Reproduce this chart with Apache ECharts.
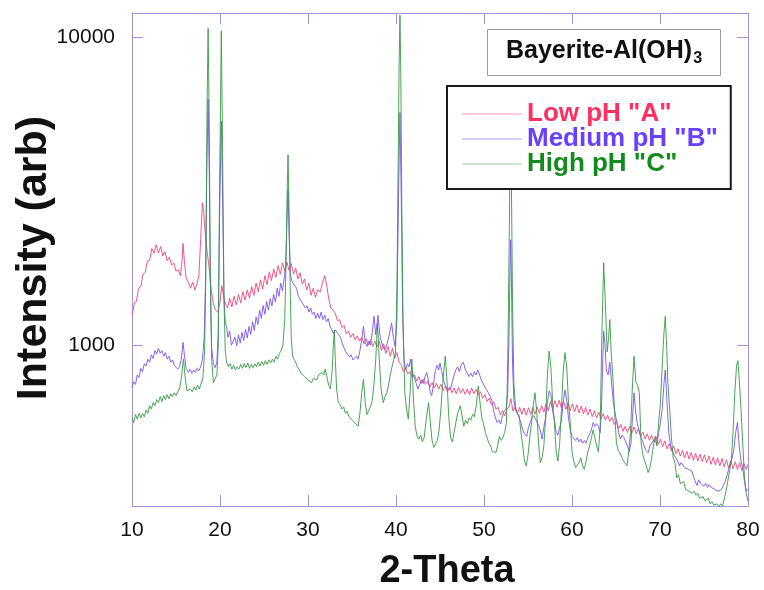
<!DOCTYPE html>
<html>
<head>
<meta charset="utf-8">
<script src="https://cdn.jsdelivr.net/npm/echarts@6/dist/echarts.min.js"></script>
<style>
  html, body { margin: 0; padding: 0; background: #fff; }
  #chart_1 { width: 764px; height: 590px; }
</style>
</head>
<body>
<div id="chart_1"></div>
<script>
// 2-theta / intensity pairs
var lowA = [
  [10.0,1250],[10.25,1360],[10.5,1390],[10.75,1530],[11.0,1550],[11.25,1700],[11.5,1720],[11.75,1880],[12.0,1880],[12.25,2060],
  [12.5,1990],[12.75,2120],[13.0,1990],[13.25,2090],[13.5,1950],[13.75,2010],[14.0,1880],[14.25,1930],[14.5,1820],[14.75,1850],
  [15.0,1740],[15.25,1760],[15.5,1680],[15.7,1900],[15.8,2140],[15.95,1880],[16.15,1650],[16.4,1600],[16.65,1530],[16.9,1600],
  [17.15,1510],[17.4,1590],[17.6,1680],[17.8,2200],[18.0,2900],[18.15,2700],[18.35,2250],[18.55,2000],[18.75,1800],[19.0,1520],
  [19.25,1360],[19.5,1300],[19.75,1280],[20.0,1380],[20.2,1560],[20.4,1450],[20.6,1370],[20.85,1320],[21.1,1420],[21.35,1330],
  [21.6,1440],[21.85,1350],[22.1,1460],[22.35,1370],[22.6,1490],[22.85,1400],[23.1,1510],[23.35,1420],[23.6,1550],[23.85,1450],
  [24.1,1590],[24.35,1490],[24.6,1630],[24.85,1520],[25.1,1680],[25.35,1570],[25.6,1730],[25.85,1620],[26.1,1770],[26.35,1660],
  [26.6,1810],[26.85,1700],[27.1,1850],[27.35,1740],[27.6,1860],[27.85,1750],[28.1,1840],[28.35,1700],[28.6,1780],[28.85,1640],
  [29.1,1720],[29.35,1580],[29.6,1640],[29.85,1510],[30.1,1590],[30.35,1450],[30.6,1530],[30.85,1430],[31.1,1510],[31.4,1490],
  [31.65,1600],[31.9,1680],[32.1,1580],[32.35,1420],[32.6,1320],[32.85,1300],[33.1,1270],[33.35,1200],[33.6,1210],[33.85,1140],
  [34.1,1160],[34.35,1090],[34.6,1110],[34.85,1060],[35.1,1090],[35.35,1040],[35.6,1070],[35.85,1030],[36.1,1060],[36.35,1010],
  [36.6,1050],[36.85,1000],[37.1,1040],[37.35,990],[37.6,1030],[37.85,985],[38.1,1030],[38.35,960],[38.6,1010],[38.85,940],
  [39.1,990],[39.35,920],[39.6,975],[39.85,905],[40.1,945],[40.35,880],[40.6,860],[40.85,820],[41.1,840],[41.35,805],
  [41.6,820],[41.85,785],[42.1,800],[42.35,765],[42.6,790],[42.85,750],[43.1,775],[43.35,745],[43.6,765],[43.85,730],
  [44.1,755],[44.35,725],[44.6,750],[44.85,720],[45.1,745],[45.35,712],[45.6,735],[45.85,705],[46.1,730],[46.35,700],
  [46.6,725],[46.85,695],[47.1,728],[47.35,698],[47.6,722],[47.85,692],[48.1,720],[48.35,690],[48.6,725],[48.85,695],
  [49.1,718],[49.35,688],[49.6,705],[49.85,672],[50.1,690],[50.35,655],[50.6,672],[50.85,640],[51.1,655],[51.35,620],
  [51.6,628],[51.85,595],[52.1,612],[52.35,590],[52.6,618],[52.85,630],[53.05,670],[53.3,610],[53.55,630],[53.8,600],
  [54.05,628],[54.3,596],[54.55,625],[54.8,592],[55.05,626],[55.3,595],[55.55,628],[55.8,596],[56.05,630],[56.3,600],
  [56.55,636],[56.8,606],[57.05,645],[57.3,612],[57.55,655],[57.8,620],[58.05,660],[58.3,628],[58.55,662],[58.8,625],
  [59.05,655],[59.3,618],[59.55,650],[59.8,612],[60.05,645],[60.3,608],[60.55,640],[60.8,602],[61.05,634],[61.3,598],
  [61.55,628],[61.8,592],[62.05,620],[62.3,585],[62.55,612],[62.8,580],[63.05,605],[63.3,576],[63.55,598],[63.8,570],
  [64.05,592],[64.3,565],[64.55,582],[64.8,552],[65.05,568],[65.3,536],[65.55,552],[65.8,524],[66.05,545],[66.3,520],
  [66.55,545],[66.8,518],[67.05,542],[67.3,515],[67.55,535],[67.8,505],[68.05,522],[68.3,496],[68.55,515],[68.8,490],
  [69.05,510],[69.3,485],[69.55,505],[69.8,476],[70.05,495],[70.3,468],[70.55,488],[70.8,460],[71.05,478],[71.3,452],
  [71.55,470],[71.8,444],[72.05,460],[72.3,436],[72.55,455],[72.8,430],[73.05,452],[73.3,426],[73.55,448],[73.8,422],
  [74.05,445],[74.3,420],[74.55,442],[74.8,418],[75.05,440],[75.3,414],[75.55,436],[75.8,410],[76.05,432],[76.3,408],
  [76.55,430],[76.8,405],[77.05,428],[77.3,402],[77.55,424],[77.8,398],[78.05,420],[78.3,396],[78.55,418],[78.8,394],
  [79.05,415],[79.3,392],[79.55,412],[79.8,395],[80.0,410]
];

var medB = [
  [10.0,730],[10.2,760],[10.4,745],[10.6,800],[10.8,785],[11.0,840],[11.2,820],[11.4,870],[11.6,855],[11.8,900],
  [12.0,880],[12.2,930],[12.4,905],[12.6,960],[12.8,935],[13.0,975],[13.2,940],[13.4,960],[13.6,920],[13.8,945],
  [14.0,900],[14.2,920],[14.4,880],[14.6,895],[14.8,860],[15.0,870],[15.2,835],[15.4,850],[15.6,900],[15.8,1020],
  [15.95,930],[16.15,840],[16.4,815],[16.6,835],[16.8,810],[17.0,830],[17.2,815],[17.4,840],[17.6,825],[17.8,850],
  [18.0,900],[18.2,1050],[18.35,1600],[18.5,3800],[18.65,6300],[18.78,3600],[18.9,1600],[19.05,980],[19.25,870],[19.45,845],
  [19.65,880],[19.8,1100],[19.95,2600],[20.15,5350],[20.3,3000],[20.45,1450],[20.6,1180],[20.75,1150],[20.9,1060],[21.1,1110],
  [21.3,1000],[21.5,1000],[21.7,1060],[21.9,995],[22.1,1080],[22.3,1015],[22.5,1100],[22.7,1035],[22.9,1125],[23.1,1055],
  [23.3,1150],[23.5,1085],[23.7,1190],[23.9,1115],[24.1,1235],[24.3,1165],[24.5,1300],[24.7,1220],[24.9,1345],[25.1,1260],
  [25.3,1385],[25.5,1300],[25.7,1415],[25.9,1340],[26.1,1460],[26.3,1380],[26.5,1530],[26.7,1440],[26.9,1590],[27.1,1500],
  [27.3,1650],[27.45,1800],[27.6,2500],[27.73,3200],[27.85,2300],[28.0,1700],[28.15,1620],[28.3,1590],[28.5,1600],[28.7,1530],
  [28.9,1440],[29.1,1430],[29.3,1380],[29.5,1380],[29.7,1320],[29.9,1340],[30.1,1280],[30.3,1320],[30.5,1260],[30.7,1280],
  [30.9,1220],[31.1,1270],[31.3,1220],[31.5,1280],[31.7,1210],[31.9,1250],[32.1,1190],[32.3,1220],[32.5,1150],[32.7,1120],
  [32.9,1090],[33.1,1120],[33.3,1110],[33.5,1080],[33.7,1060],[33.9,1010],[34.1,1000],[34.3,950],[34.5,960],[34.7,915],
  [34.9,930],[35.1,895],[35.3,885],[35.5,920],[35.7,900],[35.9,960],[36.1,1040],[36.3,1150],[36.5,1020],[36.7,990],
  [36.9,1030],[37.1,1000],[37.3,1100],[37.5,1240],[37.7,1080],[37.95,1250],[38.2,1060],[38.45,1000],[38.7,965],[38.9,990],
  [39.1,1040],[39.3,1100],[39.5,1180],[39.7,1060],[39.9,990],[40.1,1200],[40.3,3200],[40.45,5700],[40.6,3000],[40.75,1300],
  [40.9,900],[41.1,830],[41.3,870],[41.5,850],[41.65,900],[41.85,820],[42.05,790],[42.3,750],[42.5,720],[42.7,745],
  [42.9,770],[43.1,750],[43.3,790],[43.5,815],[43.7,760],[43.9,700],[44.05,685],[44.25,740],[44.45,820],[44.65,860],
  [44.85,830],[45.0,875],[45.2,820],[45.4,770],[45.6,740],[45.8,720],[46.0,710],[46.2,720],[46.4,760],[46.6,800],
  [46.8,830],[47.0,850],[47.2,820],[47.4,860],[47.65,880],[47.9,830],[48.1,810],[48.3,790],[48.5,810],[48.7,790],
  [48.9,820],[49.1,800],[49.3,830],[49.5,820],[49.7,770],[49.9,760],[50.1,730],[50.3,740],[50.5,700],[50.7,680],
  [50.9,660],[51.1,610],[51.3,580],[51.5,560],[51.7,570],[51.9,555],[52.1,590],[52.3,610],[52.5,620],[52.7,700],
  [52.85,1100],[52.95,1700],[53.03,2200],[53.12,1600],[53.25,850],[53.4,660],[53.6,615],[53.8,600],[54.0,605],[54.2,560],
  [54.4,530],[54.6,515],[54.85,505],[55.05,540],[55.25,560],[55.45,580],[55.65,590],[55.85,575],[56.05,560],[56.25,545],
  [56.45,520],[56.6,495],[56.8,540],[57.0,580],[57.2,650],[57.4,710],[57.6,690],[57.8,610],[58.0,575],[58.2,520],
  [58.4,510],[58.6,540],[58.8,570],[59.0,650],[59.2,715],[59.4,660],[59.6,580],[59.8,530],[60.0,505],[60.2,500],
  [60.4,490],[60.6,500],[60.8,485],[61.0,495],[61.2,480],[61.4,490],[61.6,480],[61.8,500],[62.0,495],[62.2,530],
  [62.4,560],[62.6,545],[62.8,555],[63.0,545],[63.2,520],[63.35,620],[63.5,900],[63.6,1110],[63.75,1010],[63.9,830],
  [64.1,800],[64.3,880],[64.5,750],[64.7,650],[64.9,600],[65.1,560],[65.3,520],[65.5,495],[65.7,510],[65.9,500],
  [66.1,505],[66.3,470],[66.5,450],[66.7,480],[66.9,600],[67.05,700],[67.2,620],[67.4,560],[67.6,530],[67.8,505],
  [68.0,490],[68.2,470],[68.4,455],[68.65,447],[68.85,470],[69.05,465],[69.25,490],[69.45,495],[69.65,480],[69.85,520],
  [70.05,560],[70.25,620],[70.45,750],[70.6,830],[70.8,650],[71.0,520],[71.2,470],[71.4,455],[71.6,440],[71.8,430],
  [72.0,420],[72.2,405],[72.4,415],[72.6,410],[72.8,400],[73.0,405],[73.2,395],[73.4,398],[73.6,390],[73.8,375],
  [74.0,360],[74.2,350],[74.4,365],[74.6,355],[74.8,360],[75.0,348],[75.2,355],[75.4,345],[75.6,352],[75.8,345],
  [76.0,350],[76.2,340],[76.4,345],[76.6,335],[76.8,338],[77.0,340],[77.2,350],[77.4,360],[77.6,375],[77.8,395],
  [78.0,415],[78.2,430],[78.4,460],[78.6,520],[78.8,560],[79.0,470],[79.2,420],[79.4,400],[79.6,360],[79.8,335],
  [80.0,340]
];

var highC = [
  [10.0,580],[10.2,560],[10.4,595],[10.6,575],[10.8,600],[11.0,580],[11.2,600],[11.4,585],[11.6,615],[11.8,600],
  [12.0,635],[12.2,620],[12.4,650],[12.6,635],[12.8,665],[13.0,650],[13.2,680],[13.4,655],[13.6,685],[13.8,665],
  [14.0,690],[14.2,670],[14.4,695],[14.6,680],[14.8,700],[15.0,685],[15.2,705],[15.4,720],[15.6,780],[15.85,900],
  [16.05,780],[16.25,710],[16.45,700],[16.65,720],[16.85,705],[17.05,730],[17.25,715],[17.45,740],[17.65,720],[17.85,730],
  [18.05,780],[18.25,950],[18.4,1800],[18.53,6000],[18.65,10700],[18.77,5500],[18.9,1700],[19.05,900],[19.25,755],[19.45,760],
  [19.65,800],[19.8,1000],[19.95,3200],[20.15,10500],[20.3,4200],[20.45,1400],[20.6,960],[20.75,880],[20.95,850],[21.15,870],
  [21.35,835],[21.55,860],[21.75,830],[21.95,850],[22.15,835],[22.35,865],[22.55,840],[22.75,870],[22.95,845],[23.15,875],
  [23.35,840],[23.55,865],[23.75,845],[23.95,870],[24.15,850],[24.35,880],[24.55,855],[24.75,885],[24.95,860],[25.15,890],
  [25.35,865],[25.55,895],[25.75,875],[25.95,900],[26.15,880],[26.35,920],[26.55,900],[26.75,940],[26.95,960],[27.15,1000],
  [27.35,1200],[27.5,1800],[27.62,3000],[27.73,4150],[27.85,2700],[27.98,1500],[28.1,1050],[28.25,920],[28.4,900],[28.6,880],
  [28.8,850],[29.0,830],[29.2,810],[29.4,820],[29.6,790],[29.8,800],[30.0,770],[30.2,780],[30.4,755],[30.6,780],
  [30.8,790],[31.0,770],[31.2,800],[31.4,790],[31.6,815],[31.8,800],[31.95,835],[32.15,790],[32.35,740],[32.55,720],
  [32.75,830],[32.88,1000],[32.99,1120],[33.1,900],[33.25,720],[33.45,650],[33.65,640],[33.85,620],[34.05,630],[34.25,600],
  [34.45,610],[34.65,585],[34.85,590],[35.05,570],[35.25,575],[35.45,555],[35.7,545],[35.9,600],[36.1,700],[36.3,775],
  [36.5,650],[36.7,595],[36.9,590],[37.1,630],[37.3,660],[37.5,750],[37.7,900],[37.9,1180],[38.1,900],[38.3,720],
  [38.55,650],[38.75,680],[38.95,700],[39.15,740],[39.35,800],[39.55,850],[39.75,900],[39.95,950],[40.1,1500],[40.25,4000],
  [40.35,8000],[40.45,11800],[40.55,7500],[40.65,3000],[40.8,1200],[41.0,700],[41.2,620],[41.4,575],[41.6,700],[41.8,900],
  [42.0,650],[42.2,540],[42.4,505],[42.6,495],[42.8,510],[43.0,485],[43.2,500],[43.45,580],[43.7,650],[43.9,560],
  [44.1,490],[44.3,465],[44.5,470],[44.7,490],[44.9,530],[45.1,620],[45.3,750],[45.6,920],[45.8,760],[46.0,580],
  [46.2,500],[46.4,485],[46.6,520],[46.8,560],[47.0,600],[47.3,635],[47.5,590],[47.7,545],[47.9,570],[48.1,555],
  [48.3,580],[48.5,570],[48.7,595],[48.9,585],[49.1,630],[49.35,735],[49.55,650],[49.75,580],[49.95,555],[50.15,520],
  [50.35,500],[50.55,480],[50.75,470],[50.95,450],[51.15,455],[51.35,448],[51.55,470],[51.75,505],[51.95,490],[52.15,500],
  [52.35,520],[52.55,560],[52.7,900],[52.85,2000],[52.95,3800],[53.03,4500],[53.12,3200],[53.25,1300],[53.4,750],[53.6,620],
  [53.8,600],[54.0,590],[54.2,520],[54.4,470],[54.6,420],[54.8,405],[55.0,440],[55.2,500],[55.4,560],[55.6,640],
  [55.8,700],[56.0,600],[56.2,480],[56.4,415],[56.6,430],[56.8,470],[57.0,580],[57.2,800],[57.4,955],[57.6,850],
  [57.8,650],[58.0,560],[58.2,450],[58.4,420],[58.6,480],[58.8,620],[59.0,820],[59.2,945],[59.4,850],[59.6,650],
  [59.8,560],[60.0,450],[60.2,420],[60.4,400],[60.6,395],[60.8,415],[61.0,430],[61.2,405],[61.4,395],[61.6,420],
  [61.8,450],[62.0,470],[62.2,500],[62.4,530],[62.6,500],[62.8,470],[63.0,450],[63.2,540],[63.4,1100],[63.6,1850],
  [63.8,1350],[64.0,950],[64.15,1050],[64.3,1210],[64.45,950],[64.65,780],[64.85,600],[65.05,480],[65.25,455],[65.45,445],
  [65.65,440],[65.85,420],[66.05,415],[66.25,405],[66.45,450],[66.65,520],[66.85,720],[67.05,920],[67.25,760],[67.45,740],
  [67.65,700],[67.85,480],[68.05,440],[68.25,420],[68.45,405],[68.65,385],[68.85,400],[69.05,430],[69.25,470],[69.45,505],
  [69.65,470],[69.85,560],[70.05,650],[70.25,850],[70.45,1100],[70.6,1240],[70.75,1000],[70.9,750],[71.1,620],[71.3,500],
  [71.5,430],[71.7,415],[71.9,370],[72.1,380],[72.3,355],[72.5,350],[72.7,360],[72.9,340],[73.1,345],[73.3,335],
  [73.5,340],[73.7,330],[73.9,335],[74.1,325],[74.3,330],[74.5,318],[74.7,316],[74.9,322],[75.1,312],[75.3,310],
  [75.5,318],[75.7,305],[75.9,310],[76.1,302],[76.3,300],[76.5,305],[76.7,298],[76.9,305],[77.1,300],[77.3,315],
  [77.5,335],[77.7,360],[77.9,390],[78.1,420],[78.3,520],[78.5,700],[78.7,860],[78.85,890],[79.0,780],[79.2,620],
  [79.4,480],[79.6,370],[79.8,330],[80.0,310]
];

var seriesNames = ['Low pH "A"', 'Medium pH "B"', 'High pH "C"'];
var lineColors = ['#f0467a', '#7b52f2', '#379a45'];
var legendLineColors = ['#f59ab5', '#b09af5', '#9fd0a5'];
var textColors = ['#ff2f62', '#6a40ff', '#128a1c'];
var xTicks = [10, 80, 10];           // min, max, step
var yTicks = [1000, 10000];
var yRange = [300, 12000];

var dom = document.getElementById("chart_1");
var myChart = echarts.init(dom);
var axisColor = '#a891dc';

var option = {
  backgroundColor: '#ffffff',
  animation: false,
  title: {
    left: 487,
    top: 26,
    text: 'Bayerite-Al(OH){sub|3}',
    padding: [9, 19, 9, 19],
    borderColor: '#9a9a9a',
    borderWidth: 1,
    backgroundColor: '#fff',
    textStyle: {
      fontFamily: 'Liberation Sans',
      fontSize: 25,
      fontWeight: 'bold',
      color: '#111',
      rich: {
        sub: { fontFamily: 'Liberation Sans', fontSize: 16, fontWeight: 'bold', color: '#111', padding: [16, 0, 0, 1] }
      }
    }
  },
  legend: {
    orient: 'vertical',
    left: 447,
    top: 86,
    padding: [15, 13, 12, 15],
    icon: 'rect',
    itemWidth: 60,
    itemHeight: 1,
    itemGap: -1,
    selectedMode: false,
    backgroundColor: '#fff',
    borderColor: '#1a1a1a',
    borderWidth: 2,
    textStyle: { fontFamily: 'Liberation Sans', fontSize: 26, fontWeight: 'bold', lineHeight: 24 },
    data: seriesNames.map(function (n, i) {
      return {
        name: n,
        itemStyle: { color: legendLineColors[i] },
        textStyle: { color: textColors[i] }
      };
    })
  },
  grid: { left: 132, right: 16, top: 13, bottom: 84 },
  xAxis: [
    {
      type: 'value', min: xTicks[0], max: xTicks[1], interval: xTicks[2],
      axisLine: { lineStyle: { color: axisColor, width: 1 } },
      axisTick: { inside: true, length: 11, lineStyle: { color: axisColor } },
      axisLabel: { color: '#111', fontFamily: 'Liberation Sans', fontSize: 21, margin: 14 },
      splitLine: { show: false }
    },
    {
      type: 'value', position: 'top', min: xTicks[0], max: xTicks[1], interval: xTicks[2],
      axisLine: { lineStyle: { color: axisColor, width: 1 } },
      axisTick: { inside: true, length: 11, lineStyle: { color: axisColor } },
      axisLabel: { show: false },
      splitLine: { show: false }
    }
  ],
  yAxis: [
    {
      type: 'log', logBase: 10, min: yRange[0], max: yRange[1],
      axisLine: { show: true, lineStyle: { color: axisColor, width: 1 } },
      axisTick: { inside: true, length: 11, lineStyle: { color: axisColor }, customValues: yTicks },
      axisLabel: {
        color: '#111', fontFamily: 'Liberation Sans', fontSize: 21, margin: 17,
        customValues: yTicks,
        formatter: function (v) { return yTicks.indexOf(Math.round(v)) >= 0 ? String(Math.round(v)) : ''; }
      },
      minorTick: { show: false },
      splitLine: { show: false }
    },
    {
      type: 'log', logBase: 10, position: 'right', min: yRange[0], max: yRange[1],
      axisLine: { show: true, lineStyle: { color: axisColor, width: 1 } },
      axisTick: { inside: true, length: 11, lineStyle: { color: axisColor }, customValues: yTicks },
      axisLabel: { show: false },
      splitLine: { show: false }
    }
  ],
  graphic: [
    {
      type: 'text', x: 34, y: 258, rotation: Math.PI / 2,
      style: { text: 'Intensity (arb)', font: 'bold 43px "Liberation Sans"', fill: '#111', align: 'center', verticalAlign: 'middle' }
    },
    {
      type: 'text', x: 447, y: 572,
      style: { text: '2-Theta', font: 'bold 38px "Liberation Sans"', fill: '#111', align: 'center', verticalAlign: 'middle' }
    }
  ],
  series: [lowA, medB, highC].map(function (d, i) {
    return {
      name: seriesNames[i],
      type: 'line',
      data: d,
      symbol: 'none',
      showSymbol: false,
      clip: true,
      color: lineColors[i],
      lineStyle: { width: 1, color: lineColors[i], opacity: 0.9 }
    };
  })
};

if (option && typeof option === "object") {
  myChart.setOption(option, true);
}
</script>
</body>
</html>
